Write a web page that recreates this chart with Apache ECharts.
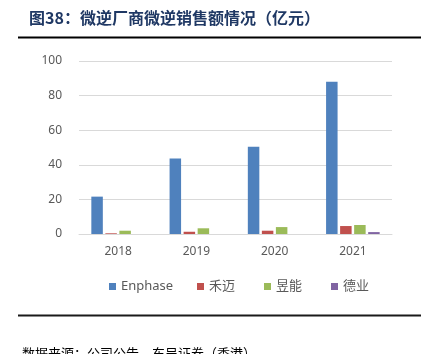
<!DOCTYPE html>
<html>
<head>
<meta charset="utf-8">
<script src="https://cdn.jsdelivr.net/npm/echarts@6/dist/echarts.min.js"></script>
<style>
html,body{margin:0;padding:0;background:#fff;}
#c{width:433px;height:354px;}
</style>
</head>
<body>
<div id="c"></div>
<script>
const titleText = '图38：微逆厂商微逆销售额情况（亿元）';
const footerText = '数据来源：公司公告，东吴证券（香港）';
const categories = ['2018', '2019', '2020', '2021'];
const seriesNames = ['Enphase', '禾迈', '昱能', '德业'];
const enphase = [21.6, 43.7, 50.5, 88.0];
const hoymiles = [0.4, 1.3, 1.9, 4.6];
const apsystems = [1.9, 3.3, 4.0, 5.2];
const deye = [null, null, null, 1.1];
const yTicks = [0, 20, 40, 60, 80, 100];

const colors = ['#4f81bd', '#c0504d', '#9bbb59', '#8064a2'];
const values = [enphase, hoymiles, apsystems, deye];
const legendLeft = [104, 192, 259, 326];

const chart = echarts.init(document.getElementById('c'), null, {renderer: 'canvas'});
const font = '"Noto Sans", "Noto Sans CJK SC", sans-serif';

chart.setOption({
  animation: false,
  textStyle: {fontFamily: font},
  grid: {left: 79, right: 41, top: 61, bottom: 120, containLabel: false},
  xAxis: {
    type: 'category',
    data: categories,
    axisLine: {lineStyle: {color: '#d9d9d9', width: 1}},
    axisTick: {show: false},
    axisLabel: {color: '#595959', fontSize: 12, margin: 12, fontFamily: font}
  },
  yAxis: {
    type: 'value',
    min: yTicks[0],
    max: yTicks[yTicks.length - 1],
    interval: 20,
    axisLine: {show: false},
    axisTick: {show: false},
    splitLine: {lineStyle: {color: '#d9d9d9', width: 1}},
    axisLabel: {color: '#595959', fontSize: 12, margin: 17, fontFamily: font}
  },
  legend: seriesNames.map((n, i) => ({
    data: [n],
    left: legendLeft[i],
    top: 275,
    itemWidth: 7,
    itemHeight: 7,
    itemGap: 0,
    icon: 'rect',
    textStyle: {color: '#595959', fontSize: 13, fontFamily: font}
  })),
  series: seriesNames.map((n, i) => ({
    name: n,
    type: 'bar',
    data: values[i],
    barWidth: 11.5,
    barGap: '22%',
    itemStyle: {color: colors[i]}
  })),
  graphic: [
    {type: 'text', left: 29, top: 10, style: {text: titleText, fill: '#1f3864', fontFamily: '"Noto Sans CJK SC"', fontWeight: 'bold', fontSize: 16}},
    {type: 'rect', shape: {x: 18, y: 36.5, width: 403, height: 2}, style: {fill: '#000'}},
    {type: 'rect', shape: {x: 18, y: 314.5, width: 403, height: 2}, style: {fill: '#1a1a1a'}},
    {type: 'text', left: 22, top: 347, style: {text: footerText, fill: '#000', fontFamily: '"Noto Sans CJK SC"', fontSize: 13}}
  ]
});
</script>
</body>
</html>
